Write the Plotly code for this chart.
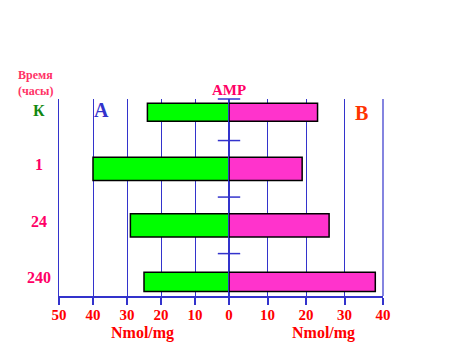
import plotly.graph_objects as go

# ---- data ----
categories = ["К", "1", "24", "240"]
series_a = [24, 40, 29, 25]      # left (A), Nmol/mg
series_b = [23, 19, 26, 38]      # right (B), Nmol/mg
left_ticks = [-50, -40, -30, -20, -10, 0]
left_labels = ["50", "40", "30", "20", "10", "0"]
right_ticks = [10, 20, 30, 40]
right_labels = ["10", "20", "30", "40"]
divider_pos = [-0.235, 0.5, 1.5, 2.5]

# ---- layout geometry (pixels) ----
W, H = 473, 354
PL, PR, PT, PB = 59.3, 383.3, 99, 296
ZERO = 229.3
pw, ph = PR - PL, PB - PT
split = (ZERO - PL) / pw

def px(x):
    return (x - PL) / pw

def py(y):
    return (PB - y) / ph

BLUE = "#3333CC"
FONT = "Liberation Serif"
ypos = list(range(len(categories)))
bar_w = [0.32, 0.41, 0.41, 0.34]

fig = go.Figure()
fig.add_trace(go.Bar(
    x=[-v for v in series_a], y=ypos, orientation="h", xaxis="x", yaxis="y",
    width=bar_w, marker=dict(color="#00FF00", line=dict(color="black", width=1.5)),
    showlegend=False, hoverinfo="skip"))
fig.add_trace(go.Bar(
    x=series_b, y=ypos, orientation="h", xaxis="x2", yaxis="y",
    width=bar_w, marker=dict(color="#FF33CC", line=dict(color="black", width=1.5)),
    showlegend=False, hoverinfo="skip"))
fig.add_trace(go.Scatter(
    x=[0] * len(divider_pos), y=divider_pos, xaxis="x2", yaxis="y", mode="markers",
    marker=dict(symbol="line-ew", size=16, line=dict(color=BLUE, width=1.5)),
    cliponaxis=False, showlegend=False, hoverinfo="skip"))

tickfont = dict(family=FONT, size=15, color="#FF0000")
axis_common = dict(showgrid=True, gridcolor=BLUE, gridwidth=1.2, showline=True,
                   linecolor=BLUE, linewidth=1.5, ticks="outside", ticklen=7,
                   tickcolor=BLUE, tickwidth=1.5, tickfont=tickfont,
                   ticklabelstandoff=-3, fixedrange=True)

fig.update_layout(
    width=W, height=H,
    margin=dict(l=PL, r=W - PR, t=PT, b=H - PB, pad=0),
    paper_bgcolor="white", plot_bgcolor="white",
    barmode="overlay",
    xaxis=dict(domain=[0, split], range=[-50, 0], tickvals=left_ticks,
               ticktext=[f"<b>{t}</b>" for t in left_labels], anchor="y",
               zeroline=False, **axis_common),
    xaxis2=dict(domain=[split, 1], range=[0, 40], tickvals=right_ticks,
                ticktext=[f"<b>{t}</b>" for t in right_labels], anchor="y",
                zeroline=True, zerolinecolor=BLUE, zerolinewidth=1.5, **axis_common),
    yaxis=dict(range=[3.25, -0.235], showgrid=False, zeroline=False, showline=True,
               linecolor=BLUE, linewidth=1.2, showticklabels=False, ticks="",
               mirror=False, fixedrange=True),
)

# right edge and zero lines
fig.add_shape(type="line", xref="paper", yref="paper", x0=1, x1=1, y0=0, y1=1,
              line=dict(color=BLUE, width=1.2))
fig.add_shape(type="line", xref="x2", yref="paper", x0=0, x1=0, y0=0, y1=1,
              line=dict(color=BLUE, width=1.5), layer="below")

def ann(text, x, y, size, color):
    fig.add_annotation(text=f"<b>{text}</b>", x=px(x), y=py(y), xref="paper", yref="paper",
                       showarrow=False, xanchor="center", yanchor="middle",
                       font=dict(family=FONT, size=size, color=color))

ann("Время", 36, 75, 12, "#FF3366")
ann("(часы)", 36, 90.5, 12, "#FF3366")
ann("AMP", 229, 90, 15, "#FF0066")
ann("A", 102, 110, 20, BLUE)
ann("B", 362, 113, 20, "#FF3300")
ann("Nmol/mg", 143, 333, 16, "#FF0000")
ann("Nmol/mg", 324, 333, 16, "#FF0000")

label_colors = ["#118811", "#FF0066", "#FF0066", "#FF0066"]
for i, c in enumerate(categories):
    fig.add_annotation(text=f"<b>{c}</b>", x=px(39.5), y=i, xref="paper", yref="y",
                       yshift=4 if i else 2, showarrow=False, xanchor="center",
                       yanchor="middle", font=dict(family=FONT, size=16, color=label_colors[i]))

fig.write_html("out.html")
